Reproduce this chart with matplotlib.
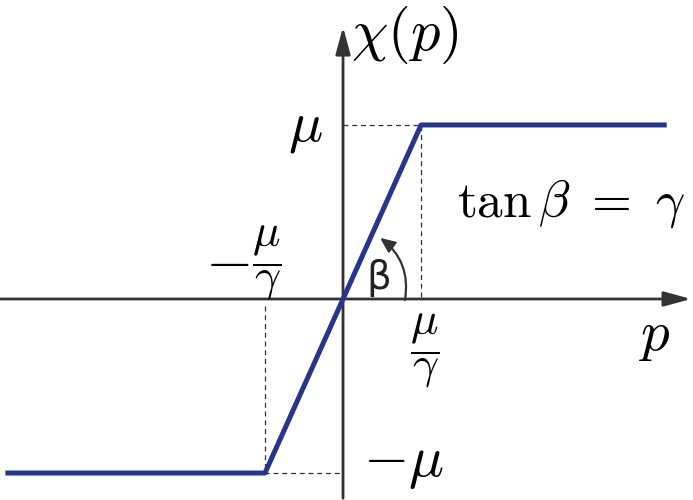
import matplotlib.pyplot as plt
from matplotlib.patches import FancyArrowPatch

plt.rcParams['mathtext.fontset'] = 'cm'

# valores da função de saturação
mu = 1.0
gamma = 2.23
p_pts = [-1.94, -mu / gamma, mu / gamma, 1.86]
chi_pts = [-mu, -mu, mu, mu]

azul = '#27358c'
cinza = '#333333'

fig = plt.figure(figsize=(6.93, 5.0), dpi=100)
ax = fig.add_axes([0, 0, 1, 1])
ax.set_xlim(-1.971, 2.011)
ax.set_ylim(-1.155, 1.718)
ax.axis('off')

# eixos com setas
seta = '-|>,head_length=1.65,head_width=0.45'
ax.annotate('', xy=(2.0, 0), xytext=(-1.971, 0),
            arrowprops=dict(arrowstyle=seta, color=cinza, lw=2.0, shrinkA=0, shrinkB=0))
ax.annotate('', xy=(0, 1.563), xytext=(0, -1.145),
            arrowprops=dict(arrowstyle=seta, color=cinza, lw=2.0, shrinkA=0, shrinkB=0))

# linhas tracejadas
ax.plot([0, mu / gamma, mu / gamma], [mu, mu, 0], ls=(0, (4, 3)), color=cinza, lw=0.9)
ax.plot([-mu / gamma, -mu / gamma, 0], [-0.04, -mu, -mu], ls=(0, (4, 3)), color=cinza, lw=0.9)

# curva
ax.plot(p_pts, chi_pts, color=azul, lw=3.6, solid_capstyle='butt', zorder=5)

# arco do ângulo beta
arco = FancyArrowPatch((0.356, -0.006), (0.213, 0.351), connectionstyle='arc3,rad=0.3',
                       arrowstyle='-|>,head_length=9,head_width=4', color=cinza, lw=1.6,
                       shrinkA=0, shrinkB=0, zorder=6)
ax.add_patch(arco)

# textos
ax.text(0.356, 1.517, r'$\chi(p)$', fontsize=42, ha='center', va='center')
ax.text(-0.218, 0.985, r'$\mu$', fontsize=41, ha='center', va='center')
ax.text(0.345, -0.94, r'$-\mu$', fontsize=42, ha='center', va='center')
ax.text(1.31, 0.55, r'$\tan\beta\ =\ \gamma$', fontsize=37, ha='center', va='center')
ax.text(-0.667, 0.218, r'$-$', fontsize=44, ha='center', va='center')
ax.text(-0.437, 0.207, r'$\dfrac{\mu}{\gamma}$', fontsize=33, ha='center', va='center')
ax.text(0.471, -0.30, r'$\dfrac{\mu}{\gamma}$', fontsize=33, ha='center', va='center')
ax.text(1.793, -0.207, r'$p$', fontsize=41, ha='center', va='center')
ax.text(0.207, 0.12, 'β', fontsize=28, ha='center', va='center', color='#222222')

fig.savefig('out.png', dpi=100)
